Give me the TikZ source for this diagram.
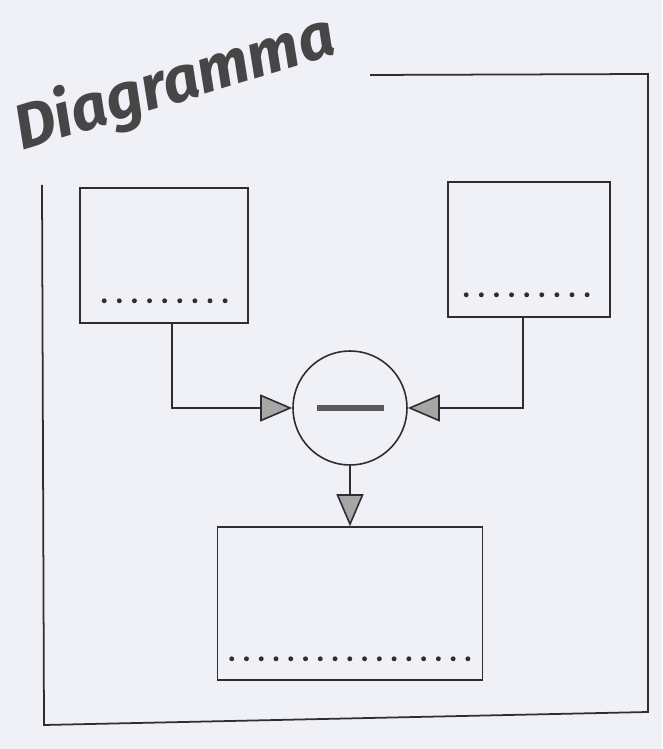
\documentclass[tikz,border=0pt]{standalone}
\usepackage{fontspec}
\newfontfamily\titlefont{Fira Sans}
\usetikzlibrary{positioning,arrows.meta}
\definecolor{paper}{RGB}{240,241,246}
\definecolor{ink}{RGB}{45,45,50}
\tikzset{
  block/.style={draw=ink, line width=0.9pt, rectangle, inner sep=0pt},
  sumnode/.style={draw=ink, line width=0.9pt, circle, minimum size=2.28cm, inner sep=0pt},
  dots/.style={ink, line width=2.8pt, line cap=round, dash pattern=on 0pt off 8.6pt},
  flow/.style={draw=ink, line width=0.9pt, -{Triangle[length=0.64cm, width=0.54cm, fill=gray!70]}},
}
\begin{document}
\begin{tikzpicture}
  \fill[paper] (0,0) rectangle (13.24,14.98);
  \useasboundingbox (0,0) rectangle (13.24,14.98);
  % title
  \node[rotate=17, text=gray!55!black, font=\titlefont\bfseries\itshape\fontsize{36}{40}\selectfont] (title) at (3.5,13.3) {Diagramma};
  % frame
  \draw[ink, line width=1pt] (7.40,13.48) -- (12.96,13.50) -- (12.96,0.74) -- (0.88,0.48) -- (0.84,11.28);
  % blocks
  \node[block, minimum width=3.36cm, minimum height=2.70cm] (left) at (3.28,9.87) {};
  \node[block, minimum width=3.24cm, minimum height=2.70cm] (right) at (10.58,9.99) {};
  \node[sumnode] (sum) at (7.00,6.82) {\textcolor{gray!70!black}{\rule[-1.5pt]{1.34cm}{3.2pt}}};
  \node[block, minimum width=5.30cm, minimum height=3.06cm] (out) at (7.00,2.91) {};
  % dotted lines
  \draw[dots] ([shift={(0.50,0.46)}]left.south west) -- ([shift={(-0.30,0.46)}]left.south east);
  \draw[dots] ([shift={(0.38,0.46)}]right.south west) -- ([shift={(-0.38,0.46)}]right.south east);
  \draw[dots, dash pattern=on 0pt off 8.4pt] ([shift={(0.30,0.44)}]out.south west) -- ([shift={(-0.30,0.44)}]out.south east);
  % connectors
  \draw[flow] ([xshift=0.16cm]left.south) |- (sum.west);
  \draw[flow] ([xshift=-0.12cm]right.south) |- (sum.east);
  \draw[flow] (sum.south) -- (out.north);
\end{tikzpicture}
\end{document}
